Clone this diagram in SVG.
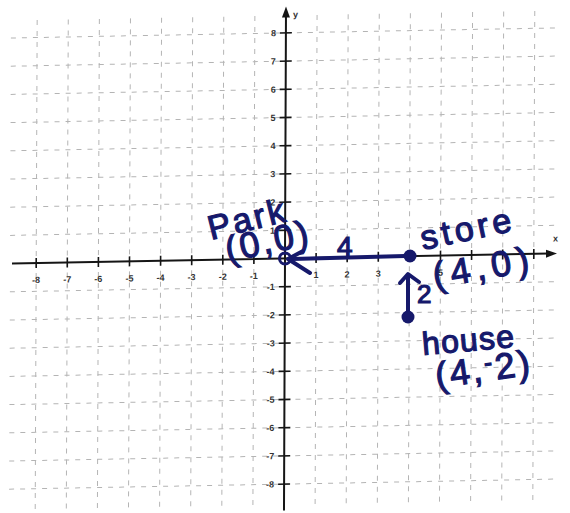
<svg xmlns="http://www.w3.org/2000/svg" width="570" height="513" viewBox="0 0 570 513">
<style>
.grid{fill:none;stroke:#b4b4b4;stroke-width:1;stroke-dasharray:5 6}
.axis{fill:none;stroke:#151515;stroke-width:2}
.tick{fill:none;stroke:#151515;stroke-width:1.6}
.tl{font-family:"Liberation Sans",Arial,sans-serif;font-size:9px;font-weight:bold;fill:#333}
.tlx{text-anchor:middle}
.tly{text-anchor:end}
.hw{font-family:"Liberation Sans",Arial,sans-serif;fill:#16196b;stroke:#16196b;stroke-width:1.2}
.ink{fill:none;stroke:#16196b;stroke-width:4;stroke-linecap:round;stroke-linejoin:round}
.dot{fill:#16196b}
</style>
<rect width="570" height="513" fill="#ffffff"/>
<g id="graph" transform="translate(285 258.5) matrix(1 -0.0185 -0.004 1 0 0)">
  <path class="grid" d="M-248.8 -243V246M-217.7 -243V246M-186.6 -243V246M-155.5 -243V246M-124.4 -243V246M-93.3 -243V246M-62.2 -243V246M-31.1 -243V246M31.1 -243V246M62.2 -243V246M93.3 -243V246M124.4 -243V246M155.5 -243V246M186.6 -243V246M217.7 -243V246M248.8 -243V246"/>
  <path class="grid" d="M-275 -225.6H270M-275 -197.4H270M-275 -169.2H270M-275 -141H270M-275 -112.8H270M-275 -84.6H270M-275 -56.4H270M-275 -28.2H270M-275 28.2H270M-275 56.4H270M-275 84.6H270M-275 112.8H270M-275 141H270M-275 169.2H270M-275 197.4H270M-275 225.6H270"/>
  <g id="axes">
    <path class="axis" d="M-273 0H264M0 252V-244"/>
    <polygon points="272,0 261,-4 261,4" fill="#151515"/>
    <polygon points="0,-252 -4,-241 4,-241" fill="#151515"/>
    <path class="tick" d="M-248.8 -5V5M-217.7 -5V5M-186.6 -5V5M-155.5 -5V5M-124.4 -5V5M-93.3 -5V5M-62.2 -5V5M-31.1 -5V5M31.1 -5V5M62.2 -5V5M93.3 -5V5M124.4 -5V5M155.5 -5V5M186.6 -5V5M217.7 -5V5M248.8 -5V5"/>
    <path class="tick" d="M-6 -225.6H6M-6 -197.4H6M-6 -169.2H6M-6 -141H6M-6 -112.8H6M-6 -84.6H6M-6 -56.4H6M-6 -28.2H6M-6 28.2H6M-6 56.4H6M-6 84.6H6M-6 112.8H6M-6 141H6M-6 169.2H6M-6 197.4H6M-6 225.6H6"/>
    <text class="tl" x="7" y="-241">y</text>
    <text class="tl" x="268" y="-12">x</text>
  </g>
  <g id="xlabels" class="tl tlx">
    <text x="-248.8" y="20">-8</text>
    <text x="-217.7" y="20">-7</text>
    <text x="-186.6" y="20">-6</text>
    <text x="-155.5" y="20">-5</text>
    <text x="-124.4" y="20">-4</text>
    <text x="-93.3" y="20">-3</text>
    <text x="-62.2" y="20">-2</text>
    <text x="-31.1" y="20">-1</text>
    <text x="31.1" y="20">1</text>
    <text x="62.2" y="20">2</text>
    <text x="93.3" y="20">3</text>
    <text x="155.5" y="20">5</text>
  </g>
  <g id="ylabels" class="tl tly">
    <text x="-10" y="-222.5">8</text>
    <text x="-10" y="-194.3">7</text>
    <text x="-10" y="-166.1">6</text>
    <text x="-10" y="-137.9">5</text>
    <text x="-10" y="-109.7">4</text>
    <text x="-10" y="-81.5">3</text>
    <text x="-10" y="-53.3">2</text>
    <text x="-10" y="-25.1">1</text>
    <text x="-10" y="31.3">-1</text>
    <text x="-10" y="59.5">-2</text>
    <text x="-10" y="87.7">-3</text>
    <text x="-10" y="115.9">-4</text>
    <text x="-10" y="144.1">-5</text>
    <text x="-10" y="172.3">-6</text>
    <text x="-10" y="200.5">-7</text>
    <text x="-10" y="228.7">-8</text>
  </g>
</g>
<g id="connectors">
  <path class="ink" d="M405 256 L292 259"/>
  <polyline class="ink" points="303,251 288,259 310,273"/>
  <path class="ink" d="M408 317 L408 275"/>
  <polyline class="ink" points="400,283 408,274 419,282"/>
</g>
<g id="park">
  <circle cx="285" cy="258.5" r="5.5" fill="none" stroke="#16196b" stroke-width="3"/>
  <text class="hw" font-size="34" transform="translate(211 240) rotate(-14)" textLength="78">Park</text>
  <text class="hw" font-size="36" transform="translate(228 262) rotate(-12)" textLength="84">(0,0)</text>
</g>
<g id="store">
  <circle class="dot" cx="410" cy="256" r="6.5"/>
  <text class="hw" font-size="34" transform="translate(423 250) rotate(-12)" textLength="92">store</text>
  <text class="hw" font-size="36" transform="translate(435 288) rotate(-10)" textLength="97">(4,0)</text>
</g>
<g id="house">
  <circle class="dot" cx="408" cy="317" r="6.5"/>
  <text class="hw" font-size="32" transform="translate(423 355) rotate(-5)" textLength="92">house</text>
  <text class="hw" font-size="36" transform="translate(437 388) rotate(-8)" textLength="95">(4,<tspan font-size="24" dy="-10">-</tspan><tspan dy="10">2)</tspan></text>
</g>
<g id="labels">
  <text class="hw" font-size="28" x="337" y="256">4</text>
  <text class="hw" font-size="26" x="417" y="303">2</text>
</g>
</svg>
